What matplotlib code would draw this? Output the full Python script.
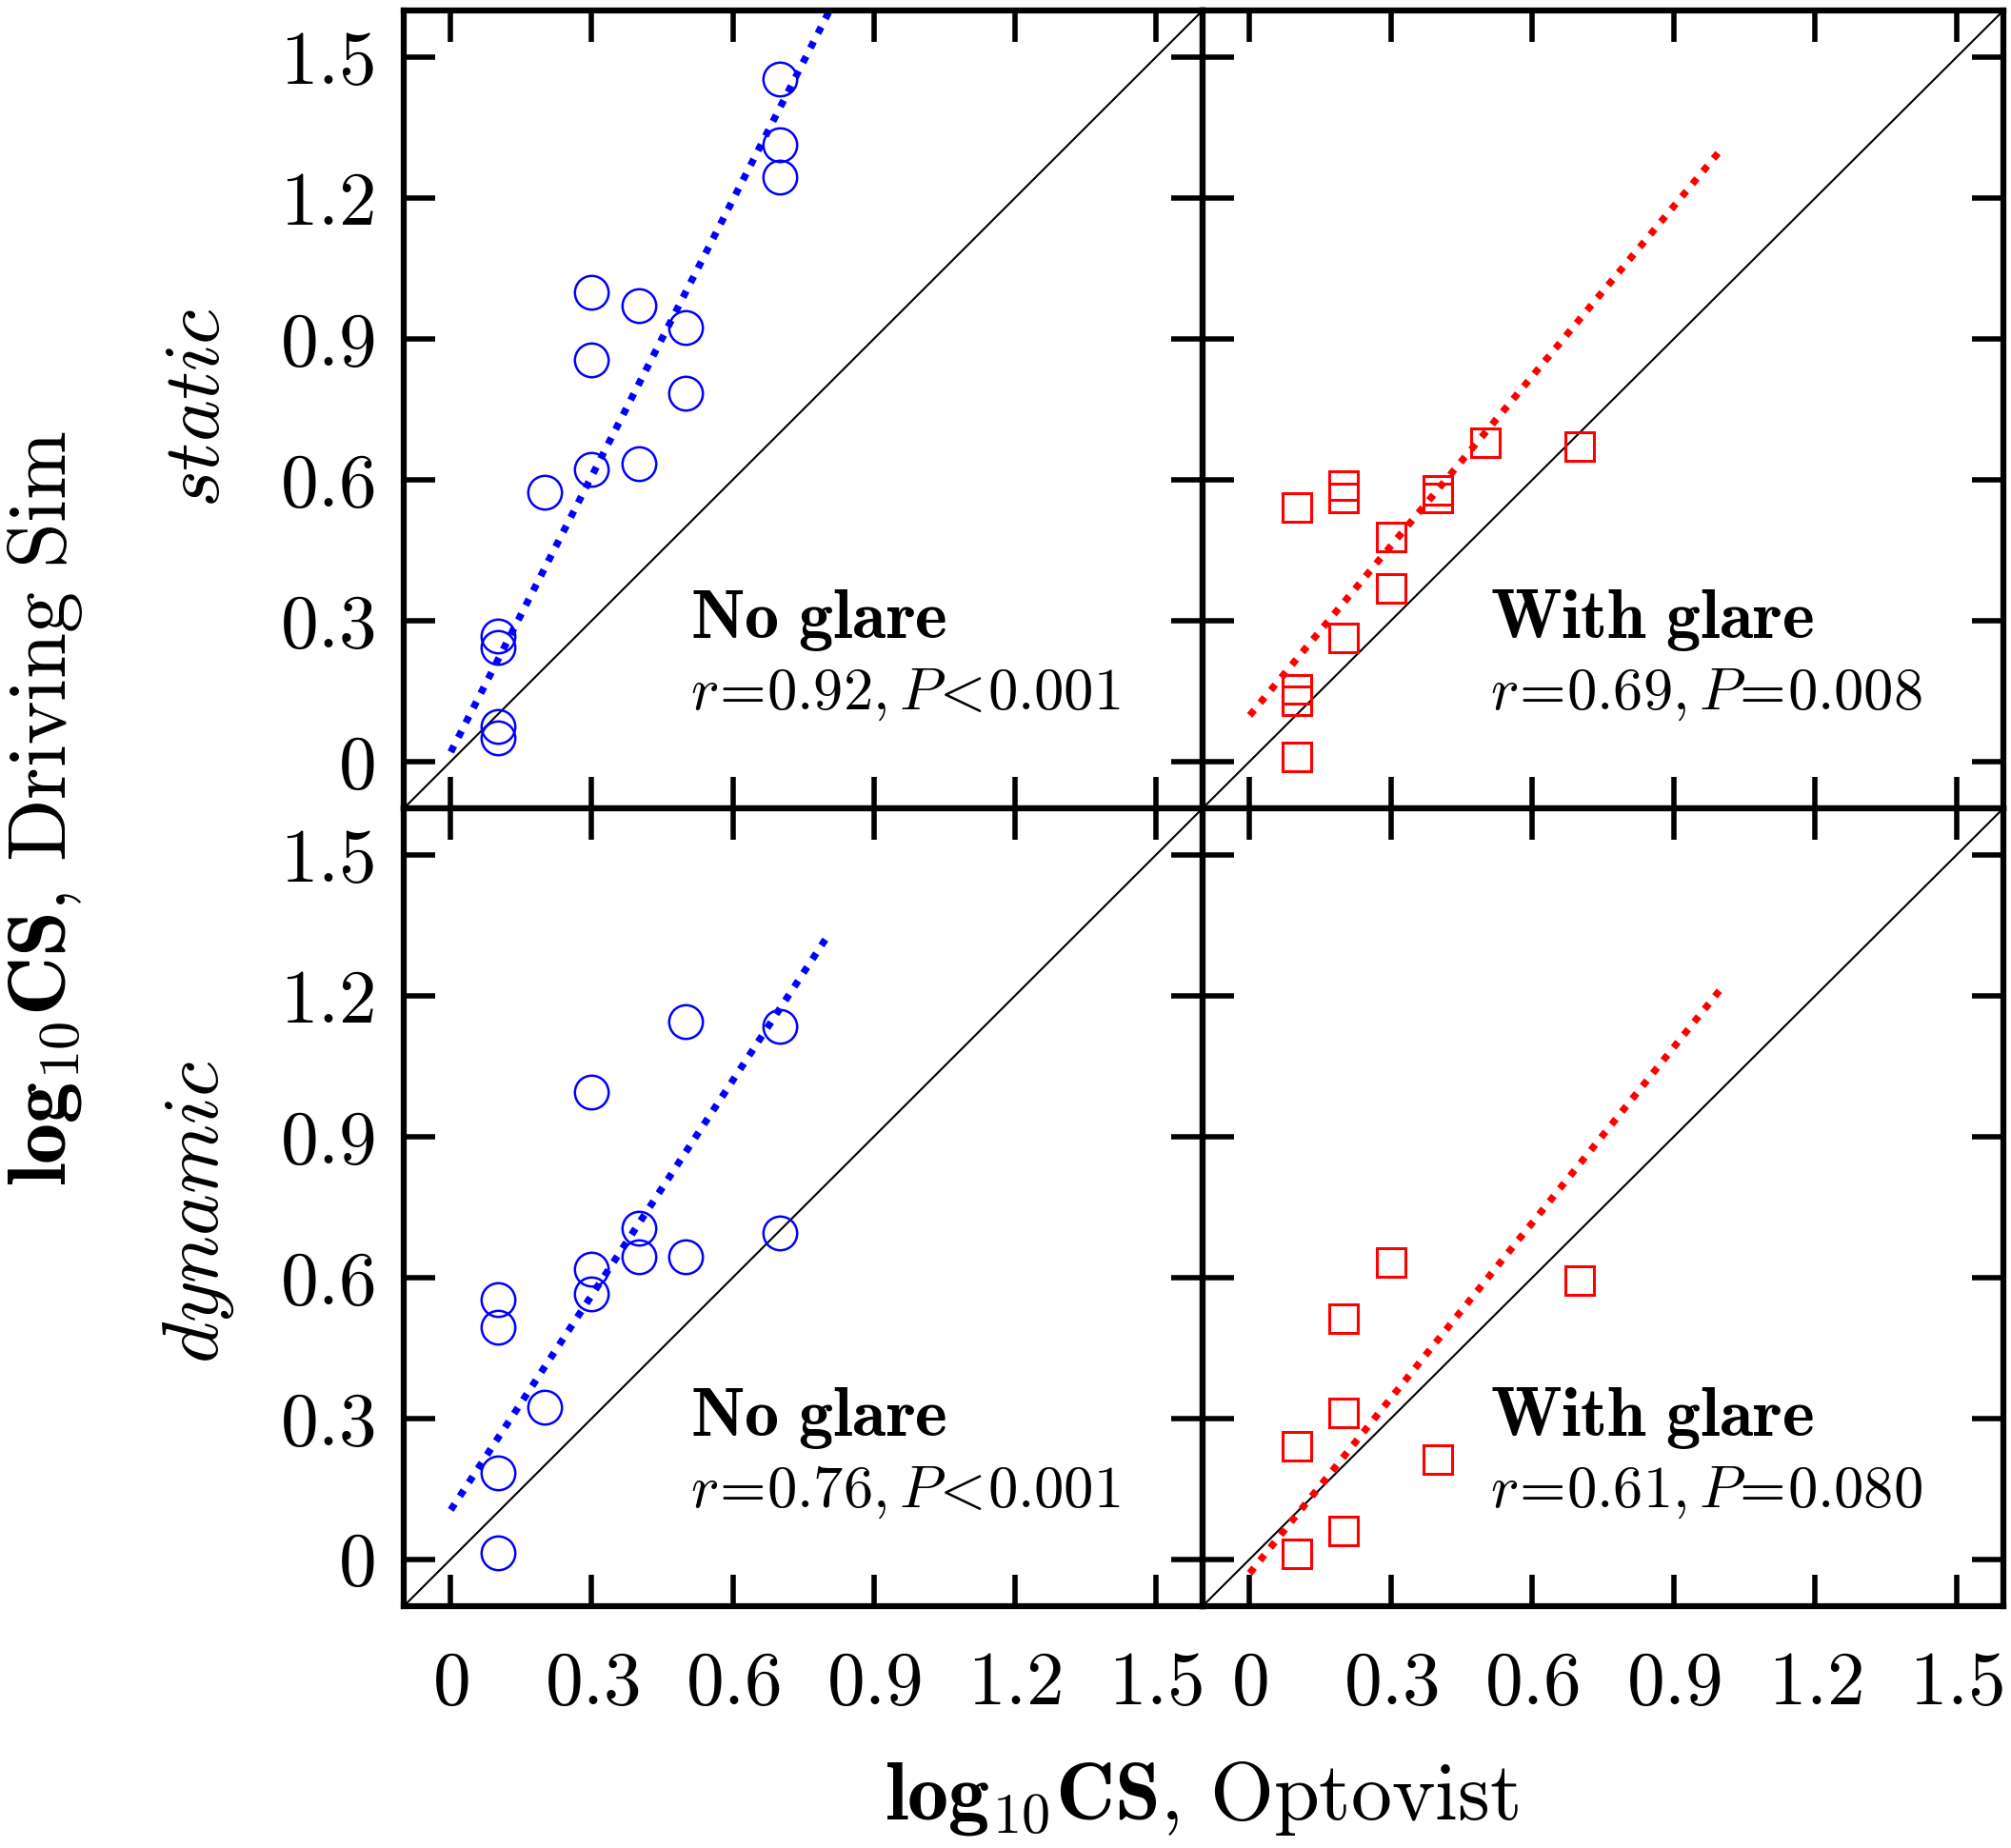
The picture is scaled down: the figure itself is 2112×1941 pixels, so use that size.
import matplotlib
matplotlib.use("Agg")
import matplotlib.pyplot as plt
import numpy as np

plt.rcParams['mathtext.fontset'] = 'cm'
plt.rcParams['font.family'] = 'serif'
plt.rcParams['font.serif'] = ['cmr10', 'DejaVu Serif']

# ---- data ----
ticks = [0, 0.3, 0.6, 0.9, 1.2, 1.5]
tick_labels = ['0', '0.3', '0.6', '0.9', '1.2', '1.5']

static_noglare_x = [0.7, 0.7, 0.7, 0.3, 0.4, 0.5, 0.3, 0.5, 0.3, 0.4, 0.2, 0.1, 0.1, 0.1, 0.1]
static_noglare_y = [1.455, 1.315, 1.245, 1.00, 0.972, 0.924, 0.855, 0.785, 0.623, 0.634, 0.574, 0.268, 0.243, 0.074, 0.051]
static_noglare_fit = (0.02, 1.96, 0.0, 0.81)   # intercept, slope, x from, x to

static_glare_x = [0.1, 0.2, 0.2, 0.4, 0.4, 0.3, 0.3, 0.2, 0.5, 0.7, 0.1, 0.1, 0.1]
static_glare_y = [0.542, 0.588, 0.562, 0.577, 0.561, 0.479, 0.368, 0.263, 0.680, 0.670, 0.154, 0.129, 0.009]
static_glare_fit = (0.098, 1.205, 0.0, 1.0)

dynamic_noglare_x = [0.5, 0.7, 0.3, 0.4, 0.4, 0.5, 0.7, 0.3, 0.3, 0.1, 0.1, 0.2, 0.1, 0.1]
dynamic_noglare_y = [1.145, 1.135, 0.995, 0.705, 0.645, 0.645, 0.695, 0.618, 0.565, 0.554, 0.494, 0.324, 0.184, 0.014]
dynamic_noglare_fit = (0.105, 1.525, 0.0, 0.80)

dynamic_glare_x = [0.3, 0.7, 0.2, 0.2, 0.1, 0.4, 0.2, 0.1]
dynamic_glare_y = [0.633, 0.594, 0.513, 0.312, 0.241, 0.212, 0.061, 0.011]
dynamic_glare_fit = (-0.03, 1.245, 0.0, 1.0)

stats = [r'$r\!=\!0.92, P\!<\!0.001$', r'$r\!=\!0.69, P\!=\!0.008$',
         r'$r\!=\!0.76, P\!<\!0.001$', r'$r\!=\!0.61, P\!=\!0.080$']
titles = [r'$\mathbf{No\ glare}$', r'$\mathbf{With\ glare}$',
          r'$\mathbf{No\ glare}$', r'$\mathbf{With\ glare}$']

panels = [
    (static_noglare_x, static_noglare_y, static_noglare_fit, 'o', '#0000ff', 0),
    (static_glare_x, static_glare_y, static_glare_fit, 's', '#ff0000', 1),
    (dynamic_noglare_x, dynamic_noglare_y, dynamic_noglare_fit, 'o', '#0000ff', 2),
    (dynamic_glare_x, dynamic_glare_y, dynamic_glare_fit, 's', '#ff0000', 3),
]

fig = plt.figure(figsize=(21.12, 19.41), dpi=100)
L, M, R = 0.2008, 0.598, 0.9962
T, MID, B = 0.9943, 0.5626, 0.1309
w = M - L
h = T - MID
positions = [(L, MID, w, h), (M, MID, R - M, h), (L, B, w, MID - B), (M, B, R - M, MID - B)]

tick_fs = 57
for (xs, ys, fit, marker, color, idx) in panels:
    ax = fig.add_axes(positions[idx])
    ax.set_xlim(-0.1, 1.6)
    ax.set_ylim(-0.1, 1.6)
    ax.plot([-0.1, 1.6], [-0.1, 1.6], color='black', lw=1.5, zorder=1)
    a, b, x0, x1 = fit
    fx = np.array([x0, x1])
    ax.plot(fx, a + b * fx, color=color, lw=5.3, dashes=(1.0, 1.35),
            dash_capstyle='butt', zorder=2)
    if marker == 'o':
        ax.plot(xs, ys, linestyle='none', marker='o', ms=25.5, mfc='none',
                mec=color, mew=1.8, zorder=3)
    else:
        ax.plot(xs, ys, linestyle='none', marker='s', ms=21.5, mfc='none',
                mec=color, mew=2.2, zorder=3)
    ax.text(0.51, 0.263, titles[idx], fontsize=52, ha='left', va='baseline')
    ax.text(0.51, 0.112, stats[idx], fontsize=45, ha='left', va='baseline')

    ax.set_xticks(ticks)
    ax.set_yticks(ticks)
    ax.set_xticklabels(['$' + t + '$' for t in tick_labels])
    ax.set_yticklabels(['$' + t + '$' for t in tick_labels])
    ax.tick_params(direction='in', length=24, width=4, top=True, right=True,
                   labelsize=tick_fs)
    ax.tick_params(axis='x', pad=34)
    ax.tick_params(axis='y', pad=22)
    if idx in (1, 3):
        ax.tick_params(labelleft=False)
    if idx in (0, 1):
        ax.tick_params(labelbottom=False)
    for s in ax.spines.values():
        s.set_linewidth(4.5)

fig.text(0.0223, 0.5626, r'$\mathbf{log}_{10}\mathbf{CS}\mathrm{,\,Driving\ Sim}$',
         rotation=90, ha='center', va='center', fontsize=62)
fig.text(0.5977, 0.0268, r'$\mathbf{log}_{10}\mathbf{CS}\mathrm{,\,Optovist}$',
         ha='center', va='center', fontsize=62)
fig.text(0.099, 0.7795, r'$static$', rotation=90, ha='center', va='center', fontsize=60)
fig.text(0.099, 0.344, r'$dynamic$', rotation=90, ha='center', va='center', fontsize=60)

fig.savefig('out.png', dpi=100)
